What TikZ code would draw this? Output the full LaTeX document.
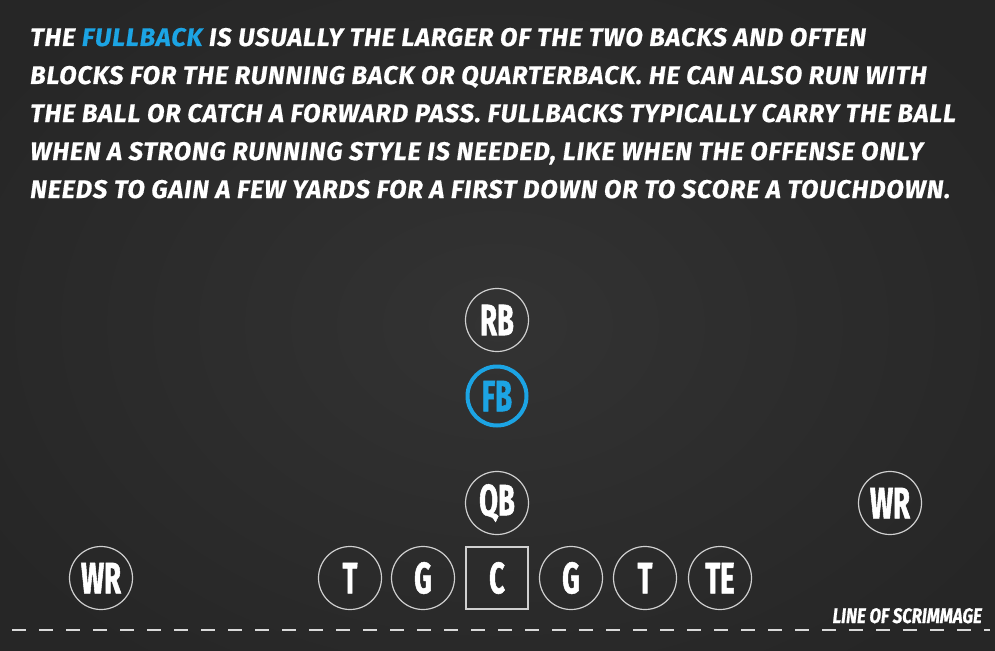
\documentclass[tikz,border=0pt]{standalone}
\usepackage{fontspec}
\setmainfont{Fira Sans}
\newfontfamily\bodyfont{Fira Sans}[LetterSpace=3.3,FakeBold=0.6]
\newfontfamily\condfont{Fira Sans}[FakeStretch=0.62,FakeBold=1.2]
\newfontfamily\loscond{Fira Sans}[FakeStretch=0.8,FakeBold=0.8]
\definecolor{board}{HTML}{333333}
\definecolor{boardedge}{HTML}{262626}
\definecolor{fbblue}{HTML}{1CA4E4}
\definecolor{ringgray}{HTML}{D0D0D0}
\begin{document}
\begin{tikzpicture}[x=1pt,y=-1pt,
  txt/.style={anchor=base west,inner sep=0pt,text=white,font=\bodyfont\fontsize{25.5}{38}\selectfont\bfseries\itshape},
  player/.style={circle,draw=ringgray,line width=1.2pt,minimum size=63pt,inner sep=0pt,text=white,font=\condfont\fontsize{44}{44}\selectfont\bfseries},
  center/.style={rectangle,draw=ringgray,line width=1.2pt,minimum size=62pt,inner sep=0pt,text=white,font=\condfont\fontsize{44}{44}\selectfont\bfseries},
  fullback/.style={player,draw=fbblue,line width=4pt,minimum size=59pt,text=fbblue},
  los/.style={draw=white!85!black,line width=1.5pt,dash pattern=on 14pt off 13pt}
]
\useasboundingbox (0,0) rectangle (995,650);
\shade[inner color=board,outer color=boardedge] (-100,-100) rectangle (1095,750);

\node[txt] (t1) at (30,46) {THE \textcolor{fbblue}{FULLBACK} IS USUALLY THE LARGER OF THE TWO BACKS AND OFTEN};
\node[txt] (t2) at (30,84) {BLOCKS FOR THE RUNNING BACK OR QUARTERBACK. HE CAN ALSO RUN WITH};
\node[txt] (t3) at (30,122) {THE BALL OR CATCH A FORWARD PASS. FULLBACKS TYPICALLY CARRY THE BALL};
\node[txt] (t4) at (30,160) {WHEN A STRONG RUNNING STYLE IS NEEDED, LIKE WHEN THE OFFENSE ONLY};
\node[txt] (t5) at (30,198) {NEEDS TO GAIN A FEW YARDS FOR A FIRST DOWN OR TO SCORE A TOUCHDOWN.};

\node[player] (rb) at (497,320) {RB};
\node[fullback] (fb) at (497,396) {FB};
\node[player] (qb) at (497,503) {QB};
\node[player] (wrr) at (890,503) {WR};
\node[player] (wrl) at (101,578) {WR};
\node[player] (lt) at (350,578) {T};
\node[player] (lg) at (423,578) {G};
\node[center] (c) at (497,578) {C};
\node[player] (rg) at (571,578) {G};
\node[player] (rt) at (645,578) {T};
\node[player] (te) at (720,578) {TE};

\node[anchor=base east,inner sep=0pt,text=white,font=\loscond\fontsize{21}{21}\selectfont\bfseries\itshape] (losl) at (982,623) {LINE OF SCRIMMAGE};
\coordinate (los1) at (12,630);
\coordinate (los2) at (990,630);
\draw[los] (los1) -- (los2);
\end{tikzpicture}
\end{document}
